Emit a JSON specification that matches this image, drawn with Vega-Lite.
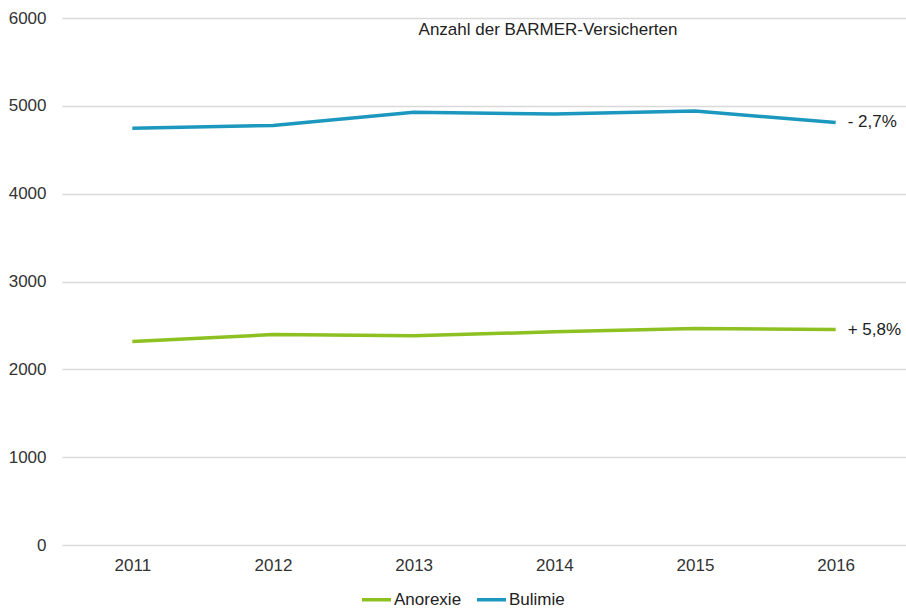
{
  "$schema": "https://vega.github.io/schema/vega-lite/v6.json",
  "width": 844,
  "height": 527,
  "autosize": {"type": "none"},
  "padding": {"left": 62, "top": 18, "right": 0, "bottom": 63},
  "background": "white",
  "config": {
    "font": "Liberation Sans",
    "view": {"stroke": null},
    "axis": {"labelFont": "Liberation Sans", "labelFontSize": 17, "labelColor": "#333333", "gridColor": "#d9d9d9", "gridWidth": 1.5, "domain": false, "ticks": false, "title": null}
  },
  "title": {
    "text": "Anzahl der BARMER-Versicherten",
    "font": "Liberation Sans",
    "fontSize": 17,
    "fontWeight": "normal",
    "color": "#222222",
    "anchor": "middle",
    "dx": 64,
    "offset": -30
  },
  "datasets": {
    "series": [
      {"Jahr": "2011", "Diagnose": "Anorexie", "Anzahl": 2316},
      {"Jahr": "2012", "Diagnose": "Anorexie", "Anzahl": 2396},
      {"Jahr": "2013", "Diagnose": "Anorexie", "Anzahl": 2381},
      {"Jahr": "2014", "Diagnose": "Anorexie", "Anzahl": 2427},
      {"Jahr": "2015", "Diagnose": "Anorexie", "Anzahl": 2464},
      {"Jahr": "2016", "Diagnose": "Anorexie", "Anzahl": 2453},
      {"Jahr": "2011", "Diagnose": "Bulimie", "Anzahl": 4746},
      {"Jahr": "2012", "Diagnose": "Bulimie", "Anzahl": 4777},
      {"Jahr": "2013", "Diagnose": "Bulimie", "Anzahl": 4928},
      {"Jahr": "2014", "Diagnose": "Bulimie", "Anzahl": 4906},
      {"Jahr": "2015", "Diagnose": "Bulimie", "Anzahl": 4940},
      {"Jahr": "2016", "Diagnose": "Bulimie", "Anzahl": 4811}
    ],
    "labels": [
      {"Jahr": "2016", "Anzahl": 2453, "Text": "+ 5,8%"},
      {"Jahr": "2016", "Anzahl": 4811, "Text": "- 2,7%"}
    ]
  },
  "encoding": {
    "x": {"field": "Jahr", "type": "ordinal", "scale": {"type": "point", "padding": 0.5},
          "axis": {"labelAngle": 0, "labelPadding": 12, "grid": false}},
    "y": {"field": "Anzahl", "type": "quantitative", "scale": {"domain": [0, 6000]},
          "axis": {"values": [0, 1000, 2000, 3000, 4000, 5000, 6000], "format": "d", "labelPadding": 16}}
  },
  "layer": [
    {
      "data": {"name": "series"},
      "mark": {"type": "line", "strokeWidth": 3.5},
      "encoding": {
        "color": {
          "field": "Diagnose", "type": "nominal",
          "scale": {"domain": ["Anorexie", "Bulimie"], "range": ["#8dc021", "#1c98bf"]},
          "legend": {
            "title": null, "orient": "none", "direction": "horizontal",
            "legendX": 298, "legendY": 565,
            "symbolType": "stroke", "symbolSize": 840, "symbolStrokeWidth": 3.5,
            "labelFont": "Liberation Sans", "labelFontSize": 17, "labelColor": "#222222",
            "labelOffset": 1, "columnPadding": 8
          }
        }
      }
    },
    {
      "data": {"name": "labels"},
      "mark": {"type": "text", "align": "left", "dx": 12, "fontSize": 17, "font": "Liberation Sans", "color": "#222222"},
      "encoding": {"text": {"field": "Text"}}
    }
  ]
}
